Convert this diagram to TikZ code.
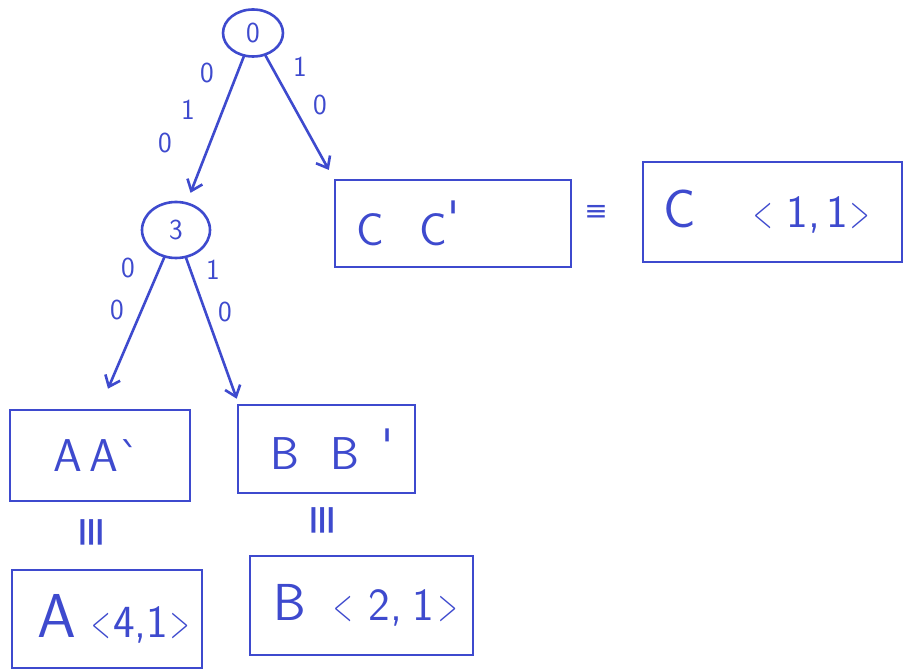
\documentclass[tikz,border=0pt]{standalone}
\usepackage{fontspec}
\newfontfamily\symf{DejaVu Sans}
\usetikzlibrary{arrows.meta,shapes.geometric}
\definecolor{pen}{RGB}{62,74,206}
\newcommand{\lbrk}{\scalebox{0.55}[1]{<}}
\newcommand{\rbrk}{\scalebox{0.55}[1]{>}}
\begin{document}
\begin{tikzpicture}[x=1pt,y=-1pt,
  ink/.style={draw=pen, line width=2.6pt},
  txt/.style={text=pen, font=\sffamily\fontsize{46}{50}\selectfont},
  lbl/.style={text=pen, font=\sffamily\fontsize{29}{30}\selectfont, inner sep=0pt},
  circ/.style={ink, ellipse, inner sep=0pt, text=pen, font=\sffamily\fontsize{29}{30}\selectfont},
  box/.style={ink, rectangle, txt, align=left, inner ysep=0pt},
  edge/.style={ink, -{Straight Barb[length=10pt,width=16pt]}, line cap=round},
  eq/.style={text=pen, font=\symf\fontsize{28}{30}\selectfont, inner sep=0pt},
  veq/.style={text=pen, font=\symf\fontsize{34}{36}\selectfont, inner sep=0pt}]

\useasboundingbox (0,0) rectangle (906,671);
\fill[white] (0,0) rectangle (906,671);

% tree nodes
\node[circ, minimum width=60pt, minimum height=47pt] (root) at (253,33) {0};
\node[circ, minimum width=68pt, minimum height=56pt] (n3) at (176,230) {3};

% boxes
\node[box, minimum height=87pt, inner xsep=21pt, text width=194pt] (cc) at (453,223.5)
  {\mbox{C\hspace{36pt}C\raisebox{12pt}{\textquotesingle}}};
\node[box, minimum height=100pt, inner xsep=20pt, text width=219pt] (c11) at (772.5,212)
  {\mbox{{\fontsize{54}{56}\selectfont C}\hspace{58pt}\lbrk\hspace{14pt}1,\hspace{6pt}1\hspace{3pt}\rbrk}};
\node[box, minimum height=91pt, inner xsep=43pt, text width=94pt] (aa) at (100,455.5)
  {\mbox{A\,A\textasciigrave}};
\node[box, minimum height=88pt, inner xsep=32pt, text width=113pt] (bb) at (326.5,449)
  {\mbox{B\hspace{32pt}B\hspace{22pt}\raisebox{8pt}{\textquotesingle}}};
\node[box, minimum height=98pt, inner xsep=25pt, text width=140pt] (a41) at (107,619)
  {\mbox{{\fontsize{62}{64}\selectfont A}\hspace{16pt}\lbrk\hspace{2pt}4,1\hspace{2pt}\rbrk}};
\node[box, minimum height=99pt, inner xsep=23pt, text width=177pt] (b21) at (361.5,605.5)
  {\mbox{{\fontsize{52}{54}\selectfont B}\hspace{28pt}\lbrk\hspace{16pt}2,\hspace{10pt}1\hspace{4pt}\rbrk}};

% equivalences
\node[eq] (e1) at (596,213) {≡};
\node[veq] (e2) at (94,532) {\rotatebox{90}{\scalebox{1.2}[1.4]{≡}}};
\node[veq] (e3) at (325,520) {\rotatebox{90}{\scalebox{1.2}[1.4]{≡}}};

% connectors
\draw[edge, shorten >=10pt] (root) -- (n3);
\draw[edge, shorten >=10pt] (root) -- (cc.north west);
\draw[edge] (n3) -- ([xshift=8pt,yshift=20pt]aa.north);
\draw[edge] (n3) -- ([yshift=5pt]bb.north west);

% edge labels
\node[lbl] (l1) at (207,73) {0};
\node[lbl] (l2) at (188,110) {1};
\node[lbl] (l3) at (165,143) {0};
\node[lbl] (r1) at (300,67) {1};
\node[lbl] (r2) at (320,105) {0};
\node[lbl] (m1) at (128,268) {0};
\node[lbl] (m2) at (117,310) {0};
\node[lbl] (n1) at (213,270) {1};
\node[lbl] (n2) at (225,312) {0};
\end{tikzpicture}
\end{document}
